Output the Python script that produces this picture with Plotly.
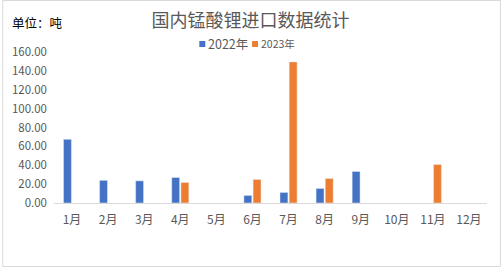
import plotly.graph_objects as go

months = ["1月", "2月", "3月", "4月", "5月", "6月", "7月", "8月", "9月", "10月", "11月", "12月"]
y2022 = [67.5, 24.0, 23.5, 27.0, None, 8.0, 11.2, 15.4, 33.4, None, None, None]
y2023 = [None, None, None, 21.8, None, 25.0, 149.5, 26.0, None, None, 40.8, None]
yticks = [0, 20, 40, 60, 80, 100, 120, 140, 160]
c2022, c2023 = "#4472C4", "#ED7D31"

fig = go.Figure()
fig.add_trace(go.Bar(x=months, y=y2022, name="2022年", marker_color=c2022))
fig.add_trace(go.Bar(x=months, y=y2023, name="2023年", marker_color=c2023))

font = "Microsoft YaHei, Noto Sans CJK SC, sans-serif"
L, R, T, B = 52, 14, 52, 64
W, H = 501, 267
pw, ph = W - L - R, H - T - B
px = lambda v: (v - L) / pw
py = lambda v: (H - B - v) / ph

fig.update_layout(
    width=W, height=H,
    margin=dict(l=L, r=R, t=T, b=B),
    paper_bgcolor="white", plot_bgcolor="white",
    barmode="group", bargap=0.49, bargroupgap=0.14,
    font=dict(family=font, size=11, color="#595959"),
    title=dict(text="国内锰酸锂进口数据统计", x=0.5, xanchor="center", y=1 - 21 / H, yanchor="middle",
               font=dict(size=18, color="#595959", family=font)),
    showlegend=False,
)
fig.update_xaxes(showline=True, linecolor="#D9D9D9", linewidth=1, ticks="", showgrid=False,
                 ticklabelstandoff=6, tickfont=dict(size=12, color="#595959"))
fig.update_yaxes(range=[0, 160], tickvals=yticks, ticktext=[f"{v:.2f}" for v in yticks],
                 showgrid=False, zeroline=False, showline=False, ticks="",
                 ticklabelstandoff=6, tickfont=dict(size=11.5, color="#595959"))
fig.add_annotation(text="单位：吨", xref="paper", yref="paper", x=px(8), y=py(23),
                   xanchor="left", yanchor="middle", showarrow=False,
                   font=dict(size=12.5, color="#000000", family=font))
# legend
for (x0, name, col, fs) in [(198, "2022年", c2022, 12.5), (251, "2023年", c2023, 10.5)]:
    fig.add_shape(type="rect", xref="paper", yref="paper", x0=px(x0), x1=px(x0 + 6),
                  y0=py(47), y1=py(41), fillcolor=col, line=dict(width=0))
    fig.add_annotation(text=name, xref="paper", yref="paper", x=px(x0 + 7), y=py(44),
                       xanchor="left", yanchor="middle", showarrow=False,
                       font=dict(size=fs, color="#595959", family=font))
fig.add_shape(type="rect", xref="paper", yref="paper", x0=px(0.5), x1=px(500.5),
              y0=py(266.5), y1=py(0.5), line=dict(color="#D9D9D9", width=1))
fig.write_html("out.html")
